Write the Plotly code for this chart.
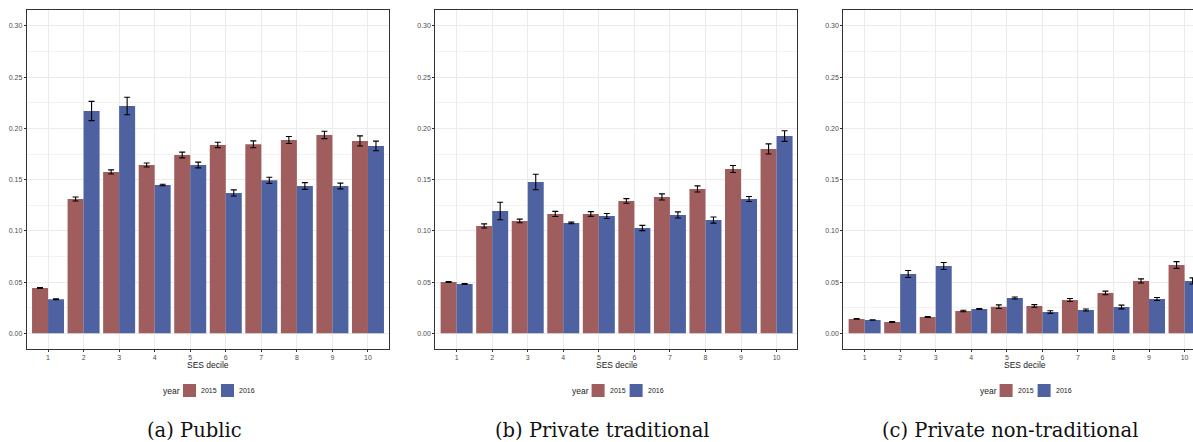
import plotly.graph_objects as go

W, H = 1193, 442

deciles = [1, 2, 3, 4, 5, 6, 7, 8, 9, 10]
tick_labels = ["1", "2", "3", "4", "5", "6", "7", "8", "9", "10"]
years = ["2015", "2016"]

public_2015 = [0.0443, 0.1311, 0.1575, 0.1643, 0.1741, 0.1839, 0.1845, 0.1887, 0.1936, 0.1878]
public_2015_err = [0.0005, 0.0020, 0.0020, 0.0020, 0.0028, 0.0026, 0.0033, 0.0034, 0.0036, 0.0049]
public_2016 = [0.0332, 0.2170, 0.2219, 0.1448, 0.1643, 0.1370, 0.1494, 0.1438, 0.1438, 0.1829]
public_2016_err = [0.0005, 0.0094, 0.0085, 0.0007, 0.0028, 0.0030, 0.0030, 0.0033, 0.0028, 0.0047]

privtrad_2015 = [0.0501, 0.1048, 0.1097, 0.1165, 0.1165, 0.1292, 0.1331, 0.1409, 0.1604, 0.1800]
privtrad_2015_err = [0.0005, 0.0020, 0.0018, 0.0025, 0.0023, 0.0023, 0.0030, 0.0030, 0.0034, 0.0049]
privtrad_2016 = [0.0482, 0.1194, 0.1477, 0.1077, 0.1145, 0.1028, 0.1155, 0.1106, 0.1311, 0.1926]
privtrad_2016_err = [0.0005, 0.0086, 0.0075, 0.0008, 0.0024, 0.0026, 0.0030, 0.0030, 0.0024, 0.0052]

privnon_2015 = [0.0140, 0.0111, 0.0159, 0.0218, 0.0260, 0.0267, 0.0325, 0.0394, 0.0511, 0.0667]
privnon_2015_err = [0.0003, 0.0005, 0.0005, 0.0007, 0.0018, 0.0013, 0.0015, 0.0018, 0.0020, 0.0033]
privnon_2016 = [0.0130, 0.0579, 0.0657, 0.0238, 0.0345, 0.0208, 0.0228, 0.0257, 0.0335, 0.0511]
privnon_2016_err = [0.0003, 0.0034, 0.0034, 0.0005, 0.0010, 0.0013, 0.0010, 0.0018, 0.0015, 0.0030]

captions = ["(a) Public", "(b) Private traditional", "(c) Private non-traditional"]

RED = "#9F5D5D"
BLUE = "#4E61A0"
SANS = "Liberation Sans, Arial, sans-serif"
SERIF = "DejaVu Serif, Liberation Serif, serif"

panels = [
    (public_2015, public_2015_err, public_2016, public_2016_err),
    (privtrad_2015, privtrad_2015_err, privtrad_2016, privtrad_2016_err),
    (privnon_2015, privnon_2015_err, privnon_2016, privnon_2016_err),
]

# pixel geometry of plot areas
px_left = [26.7, 435.3, 843.3]
px_right = [389.3, 797.3, 1193.0]
px_top, px_bottom = 10.3, 349.0
unit_px = (389.3 - 26.7) / 10.2

fig = go.Figure()
for i, (a, ae, b, be) in enumerate(panels):
    ax = "" if i == 0 else str(i + 1)
    for vals, errs, col, yr in [(a, ae, RED, years[0]), (b, be, BLUE, years[1])]:
        fig.add_trace(go.Bar(
            x=deciles, y=vals, name=yr, marker=dict(color=col, line=dict(width=0)),
            error_y=dict(type="data", array=errs, color="black", thickness=1.1, width=3),
            xaxis="x" + ax, yaxis="y" + ax, showlegend=False, offsetgroup=yr,
        ))

axis_common = dict(
    showline=True, linecolor="#333333", linewidth=1, ticks="outside", ticklen=2,
    tickcolor="#333333", tickwidth=1, showgrid=True, gridcolor="#EBEBEB", gridwidth=1,
    zeroline=False, tickfont=dict(family=SANS, size=7, color="#4D4D4D"),
)

layout = dict(
    width=W, height=H, margin=dict(l=0, r=0, t=0, b=0),
    paper_bgcolor="white", plot_bgcolor="white",
    barmode="group", bargap=0.1, bargroupgap=0.0,
    showlegend=False,
)

ydom = [1 - px_bottom / H, 1 - px_top / H]
shapes = []
annotations = []
for i in range(3):
    ax = "" if i == 0 else str(i + 1)
    xmax = 0.4 + (px_right[i] - px_left[i]) / unit_px
    layout["xaxis" + ax] = dict(
        axis_common, domain=[px_left[i] / W, px_right[i] / W], range=[0.4, xmax],
        tickvals=deciles, ticktext=tick_labels, mirror=True, anchor="y" + ax,
    )
    layout["yaxis" + ax] = dict(
        axis_common, domain=ydom, range=[-0.0153, 0.3153], tickvals=[0, 0.05, 0.10, 0.15, 0.20, 0.25, 0.30],
        tickformat=".2f", mirror=(i < 2), anchor="x" + ax,
        minor=dict(dtick=0.025, tick0=0, showgrid=True, gridcolor="#F2F2F2", gridwidth=1),
    )
    # axis title, legend, caption
    cx = (px_left[i] + (px_left[i] + 10.2 * unit_px)) / 2
    annotations.append(dict(text="SES decile", x=cx / W, y=1 - 365 / H, xref="paper", yref="paper",
                            showarrow=False, font=dict(family=SANS, size=8.5, color="#222222"),
                            xanchor="center", yanchor="middle"))
    lx = cx - 47
    annotations.append(dict(text="year", x=lx / W, y=1 - 390.5 / H, xref="paper", yref="paper",
                            showarrow=False, font=dict(family=SANS, size=8.5, color="#222222"),
                            xanchor="left", yanchor="middle"))
    k1 = lx + 22
    shapes.append(dict(type="rect", xref="paper", yref="paper", x0=k1 / W, x1=(k1 + 13) / W,
                       y0=1 - 397 / H, y1=1 - 384 / H, fillcolor=RED, line=dict(width=0)))
    annotations.append(dict(text=years[0], x=(k1 + 16) / W, y=1 - 390.5 / H, xref="paper", yref="paper",
                            showarrow=False, font=dict(family=SANS, size=7, color="#222222"),
                            xanchor="left", yanchor="middle"))
    k2 = k1 + 38
    shapes.append(dict(type="rect", xref="paper", yref="paper", x0=k2 / W, x1=(k2 + 13) / W,
                       y0=1 - 397 / H, y1=1 - 384 / H, fillcolor=BLUE, line=dict(width=0)))
    annotations.append(dict(text=years[1], x=(k2 + 16) / W, y=1 - 390.5 / H, xref="paper", yref="paper",
                            showarrow=False, font=dict(family=SANS, size=7, color="#222222"),
                            xanchor="left", yanchor="middle"))

cap_x = [194, 603, 1010]
for i, c in enumerate(captions):
    annotations.append(dict(text=c, x=cap_x[i] / W, y=1 - 430 / H, xref="paper", yref="paper",
                            showarrow=False, font=dict(family=SERIF, size=19.5, color="#111111"),
                            xanchor="center", yanchor="middle"))

layout["shapes"] = shapes
layout["annotations"] = annotations
fig.update_layout(**layout)
fig.write_html("out.html")
